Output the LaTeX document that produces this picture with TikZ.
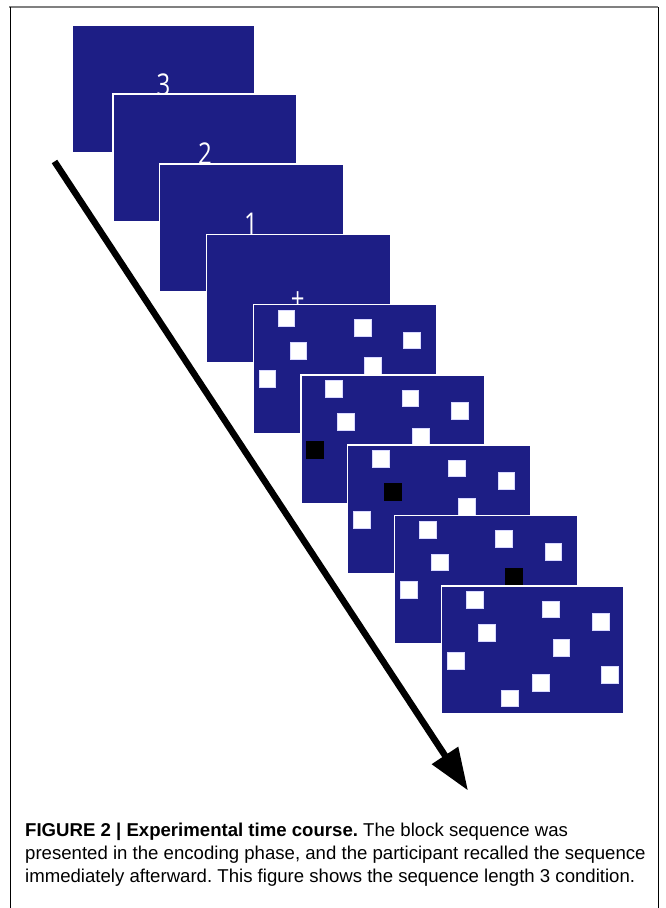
\documentclass[tikz,border=0pt]{standalone}
\usepackage{fontspec}
\setmainfont{Liberation Sans}
\newfontfamily\digitfont[FakeStretch=0.8]{Open Sans}
\usetikzlibrary{arrows.meta}
\definecolor{screenblue}{RGB}{29,30,133}
\definecolor{framegray}{RGB}{128,128,128}
\frenchspacing
% block layout of one screen (top left corners)
\newcommand{\blocks}{%
  \foreach \bx/\by in {24.5/5.5,100.8/14.8,150.3/27.6,36.5/38.3,111/53,5.6/66,159.6/80.3,90.6/88.3,59.6/103.7}
    {\draw[blk] (\bx,\by) rectangle ++(16.7,16.7);}}

\begin{document}
\begin{tikzpicture}[x=1pt,y=-1pt,
	screen/.style={fill=screenblue,draw=white,line width=1.3pt},
	blk/.style={fill=white,draw=white!85!blue,line width=0.4pt},
	cue/.style={fill=black,draw=black,line width=0.4pt},
	digit/.style={text=white,font=\digitfont\fontsize{30}{30}\selectfont,anchor=base,inner sep=0pt},
	capline/.style={anchor=base west,inner sep=0pt,font=\fontsize{18.6}{23.2}\selectfont},
	timearrow/.style={line width=6.5pt,-{Triangle[length=42pt,width=30pt]}}]
	\useasboundingbox (0,0) rectangle (666,908);

	% Frame
	\draw[framegray,line width=2.5pt] (9,7) -- (658,7);
	\draw[line width=1pt] (10,7) -- (10,908);
	\draw[line width=1pt] (658,7) -- (658,908);

	% Time
	\coordinate (t0) at (54.5,161.5);
	\coordinate (t1) at (468,790.5);
	\draw[timearrow] (t0) -- (t1);

	% Countdown
	\draw[screen] (72,25) rectangle ++(183,128);
	\node[digit] (three) at (163.5,95.4) {3};
	\draw[screen] (113,94) rectangle ++(184,128);
	\node[digit] (two) at (205,164.4) {2};
	\draw[screen] (159.5,164) rectangle ++(184,128);
	\node[digit] (one) at (251,234.4) {1};
	\draw[screen] (206.3,234.3) rectangle ++(184,128);
	\node[digit] (fix) at (297.7,309.5) {+};

	% Encoding
	\begin{scope}[shift={(253.3,304.3)}]
		\draw[screen] (0,0) rectangle (183.5,129);
		\blocks
	\end{scope}
	\begin{scope}[shift={(301,375)}]
		\draw[screen] (0,0) rectangle (183.5,128.5);
		\blocks
		\draw[cue] (5.6,66) rectangle ++(16.7,16.7);
	\end{scope}
	\begin{scope}[shift={(347.5,445)}]
		\draw[screen] (0,0) rectangle (183.5,128.5);
		\blocks
		\draw[cue] (36.5,38.3) rectangle ++(16.7,16.7);
	\end{scope}
	\begin{scope}[shift={(394.5,515.5)}]
		\draw[screen] (0,0) rectangle (183.5,128.5);
		\blocks
		\draw[cue] (111,53) rectangle ++(16.7,16.7);
	\end{scope}

	% Recall
	\begin{scope}[shift={(441.7,586)}]
		\draw[screen] (0,0) rectangle (182,127.7);
		\blocks
	\end{scope}

	% Caption
	\node[capline] (cap1) at (25,836) {\textbf{FIGURE 2 | Experimental time course.} The block sequence was};
	\node[capline] (cap2) at (25,859) {presented in the encoding phase, and the participant recalled the sequence};
	\node[capline] (cap3) at (25,882) {immediately afterward. This figure shows the sequence length 3 condition.};
\end{tikzpicture}
\end{document}
